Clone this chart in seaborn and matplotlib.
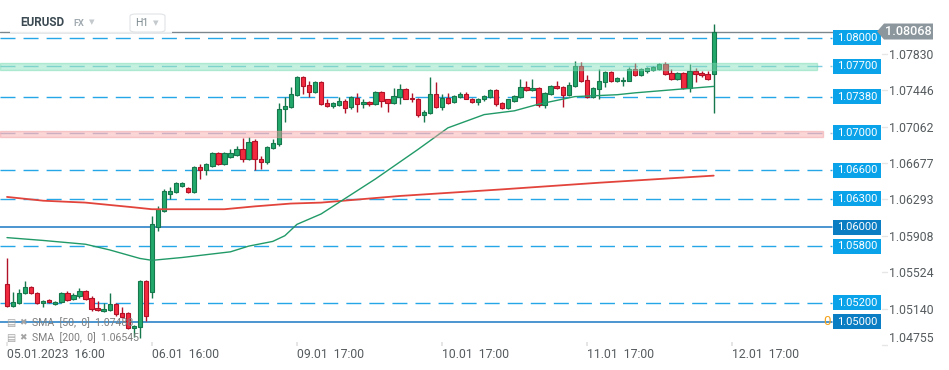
import numpy as np
import pandas as pd
import matplotlib
matplotlib.use("Agg")
import matplotlib.pyplot as plt
import matplotlib.transforms as mtransforms
from matplotlib.patches import Rectangle, Polygon, FancyBboxPatch
import seaborn as sns

# ---------------- data ----------------
opens = [1.0540, 1.0517, 1.0520, 1.0530, 1.0537, 1.0531, 1.0520, 1.0523, 1.0519, 1.0521,
         1.0531, 1.0524, 1.0527, 1.0533, 1.0525, 1.0515, 1.0511, 1.0512, 1.0519, 1.0509,
         1.0509, 1.0494, 1.0495, 1.0543, 1.0532, 1.0600, 1.0617, 1.0635, 1.0637, 1.0644,
         1.0641, 1.0637, 1.0664, 1.0660, 1.0665, 1.0678, 1.0667, 1.0674, 1.0676, 1.0683,
         1.0672, 1.0691, 1.0672, 1.0669, 1.0684, 1.0688, 1.0725, 1.0727, 1.0740, 1.0759,
         1.0750, 1.0743, 1.0753, 1.0731, 1.0728, 1.0729, 1.0733, 1.0727, 1.0737, 1.0730,
         1.0732, 1.0730, 1.0743, 1.0735, 1.0731, 1.0738, 1.0746, 1.0737, 1.0736, 1.0719,
         1.0721, 1.0741, 1.0727, 1.0737, 1.0732, 1.0738, 1.0741, 1.0736, 1.0732, 1.0735,
         1.0738, 1.0745, 1.0731, 1.0726, 1.0733, 1.0738, 1.0748, 1.0745, 1.0747, 1.0729,
         1.0741, 1.0749, 1.0748, 1.0740, 1.0749, 1.0770, 1.0756, 1.0738, 1.0746, 1.0753,
         1.0764, 1.0754, 1.0754, 1.0755, 1.0767, 1.0761, 1.0765, 1.0766, 1.0767, 1.0772,
         1.0763, 1.0757, 1.0763, 1.0747, 1.0765, 1.0763, 1.0762, 1.0762]
highs = [1.0567, 1.0532, 1.0535, 1.0543, 1.0538, 1.0532, 1.0523, 1.0524, 1.0522, 1.0532,
         1.0533, 1.0531, 1.0536, 1.0534, 1.0527, 1.0522, 1.0520, 1.0531, 1.0520, 1.0516,
         1.0510, 1.0497, 1.0544, 1.0544, 1.0612, 1.0622, 1.0640, 1.0643, 1.0648, 1.0648,
         1.0642, 1.0665, 1.0667, 1.0668, 1.0679, 1.0679, 1.0679, 1.0683, 1.0686, 1.0694,
         1.0695, 1.0693, 1.0675, 1.0686, 1.0693, 1.0731, 1.0738, 1.0748, 1.0760, 1.0760,
         1.0754, 1.0754, 1.0754, 1.0735, 1.0732, 1.0738, 1.0735, 1.0739, 1.0742, 1.0735,
         1.0733, 1.0744, 1.0744, 1.0736, 1.0747, 1.0751, 1.0747, 1.0742, 1.0737, 1.0724,
         1.0759, 1.0753, 1.0741, 1.0742, 1.0740, 1.0743, 1.0743, 1.0737, 1.0737, 1.0740,
         1.0746, 1.0746, 1.0732, 1.0736, 1.0740, 1.0757, 1.0755, 1.0757, 1.0748, 1.0743,
         1.0750, 1.0755, 1.0749, 1.0753, 1.0776, 1.0775, 1.0761, 1.0748, 1.0767, 1.0765,
         1.0765, 1.0759, 1.0759, 1.0769, 1.0774, 1.0768, 1.0769, 1.0770, 1.0773, 1.0775,
         1.0767, 1.0764, 1.0764, 1.0772, 1.0768, 1.0765, 1.0765, 1.0815]
lows = [1.0516, 1.0516, 1.0519, 1.0529, 1.0529, 1.0519, 1.0516, 1.0520, 1.0518, 1.0520,
        1.0522, 1.0523, 1.0525, 1.0523, 1.0511, 1.0511, 1.0510, 1.0511, 1.0506, 1.0504,
        1.0492, 1.0484, 1.0483, 1.0501, 1.0525, 1.0596, 1.0616, 1.0630, 1.0636, 1.0643,
        1.0636, 1.0636, 1.0651, 1.0655, 1.0664, 1.0666, 1.0666, 1.0673, 1.0675, 1.0669,
        1.0671, 1.0660, 1.0662, 1.0667, 1.0683, 1.0686, 1.0711, 1.0726, 1.0739, 1.0741,
        1.0738, 1.0742, 1.0729, 1.0727, 1.0726, 1.0728, 1.0721, 1.0725, 1.0722, 1.0726,
        1.0728, 1.0729, 1.0727, 1.0722, 1.0730, 1.0730, 1.0735, 1.0732, 1.0716, 1.0711,
        1.0720, 1.0726, 1.0724, 1.0730, 1.0731, 1.0737, 1.0735, 1.0731, 1.0729, 1.0733,
        1.0737, 1.0728, 1.0725, 1.0725, 1.0732, 1.0737, 1.0744, 1.0744, 1.0727, 1.0726,
        1.0740, 1.0746, 1.0727, 1.0739, 1.0748, 1.0753, 1.0737, 1.0737, 1.0736, 1.0748,
        1.0753, 1.0753, 1.0749, 1.0754, 1.0760, 1.0760, 1.0763, 1.0765, 1.0766, 1.0761,
        1.0756, 1.0756, 1.0746, 1.0743, 1.0753, 1.0759, 1.0756, 1.0721]
closes = [1.0517, 1.0521, 1.0531, 1.0537, 1.0530, 1.0520, 1.0522, 1.0521, 1.0521, 1.0531,
          1.0523, 1.0528, 1.0533, 1.0524, 1.0514, 1.0512, 1.0514, 1.0519, 1.0508, 1.0505,
          1.0494, 1.0496, 1.0543, 1.0506, 1.0603, 1.0619, 1.0638, 1.0638, 1.0647, 1.0647,
          1.0637, 1.0664, 1.0660, 1.0667, 1.0678, 1.0667, 1.0678, 1.0678, 1.0683, 1.0672,
          1.0690, 1.0672, 1.0669, 1.0685, 1.0689, 1.0725, 1.0728, 1.0741, 1.0759, 1.0749,
          1.0743, 1.0753, 1.0730, 1.0728, 1.0731, 1.0733, 1.0726, 1.0738, 1.0730, 1.0732,
          1.0730, 1.0743, 1.0733, 1.0731, 1.0739, 1.0746, 1.0736, 1.0735, 1.0719, 1.0722,
          1.0741, 1.0727, 1.0737, 1.0731, 1.0739, 1.0741, 1.0736, 1.0732, 1.0736, 1.0739,
          1.0745, 1.0730, 1.0726, 1.0735, 1.0739, 1.0748, 1.0745, 1.0747, 1.0729, 1.0742,
          1.0749, 1.0747, 1.0740, 1.0750, 1.0770, 1.0754, 1.0738, 1.0747, 1.0754, 1.0764,
          1.0754, 1.0758, 1.0756, 1.0767, 1.0761, 1.0767, 1.0768, 1.0769, 1.0772, 1.0762,
          1.0757, 1.0763, 1.0747, 1.0765, 1.0762, 1.0761, 1.0757, 1.08068]

sma50_idx = [0, 6, 13, 17, 22, 24, 29, 37, 40, 44, 46, 48, 52, 61, 68, 73, 79, 84, 88, 94, 101, 104, 117]
sma50_val = [1.0589, 1.0586, 1.0582, 1.0576, 1.0567, 1.0565, 1.0568, 1.0574, 1.0580, 1.0585, 1.0591,
             1.0603, 1.0614, 1.0651, 1.0682, 1.0705, 1.0719, 1.0723, 1.0730, 1.0738, 1.0740, 1.0742, 1.07488]
sma200_idx = [0, 6, 13, 21, 24, 36, 41, 47, 52, 65, 82, 98, 117]
sma200_val = [1.0632, 1.0628, 1.0626, 1.0621, 1.0619, 1.0619, 1.0622, 1.0625, 1.0626, 1.0633, 1.0640, 1.0647, 1.06545]

dashed_levels = [1.0800, 1.0770, 1.0738, 1.0700, 1.0660, 1.0630, 1.0580, 1.0520]
solid_levels = [1.0600, 1.0500]
green_zone = (1.07665, 1.07730)
red_zone = (1.06958, 1.07019)
last_price = 1.08068

ytick_vals = [1.07830, 1.07446, 1.07062, 1.06677, 1.06293, 1.05908, 1.05524, 1.05140, 1.04755]
xtick_idx = [0, 24, 48, 72, 96, 120]
xtick_labels = ["05.01.2023  16:00", "06.01  16:00", "09.01  17:00",
                "10.01  17:00", "11.01  17:00", "12.01  17:00"]

symbol = "EURUSD"
market = "FX"
interval = "H1"
legend_lines = ["SMA  [50,  0]  1.07488", "SMA  [200,  0]  1.06545"]

# ---------------- style ----------------
sns.set_theme(style="white")
plt.rcParams['font.family'] = ['Roboto', 'DejaVu Sans']

W, H = 949, 370
fig = plt.figure(figsize=(W / 100, H / 100), dpi=100)
ax_right_px = 832
ax_bottom_px = 345.5
ax = fig.add_axes([0, 1 - ax_bottom_px / H, ax_right_px / W, ax_bottom_px / H])

px_per_idx = 6.04
x0_px = 7
ax.set_xlim(-x0_px / px_per_idx, (ax_right_px - x0_px) / px_per_idx)
ax.set_ylim(1.04750, 1.08401)
xmin, xmax = ax.get_xlim()
ymin, ymax = ax.get_ylim()
price_per_px = (ymax - ymin) / ax_bottom_px

def fx(xp):
    return xp / W

def fy(yp):
    return 1 - yp / H

blend = mtransforms.blended_transform_factory(ax.transAxes, ax.transData)

# ---------------- levels ----------------
dash_col = '#25a6e6'
for lv in dashed_levels:
    col = dash_col
    if lv in (1.0770,):
        col = '#7fcbe0'
    if lv in (1.0700,):
        col = '#a9bad8'
    ax.plot([0, 1.0], [lv, lv], transform=blend, color=col, lw=1.0,
            ls=(0, (10.8, 5.8)), zorder=1.5, clip_on=False)
for lv in solid_levels:
    ax.plot([0, 1.0], [lv, lv], transform=blend, color='#1a78c2', lw=1.1, zorder=1.5, clip_on=False)

# last price line
ax.plot([0, 877 / ax_right_px], [last_price, last_price], transform=blend,
        color='#7b878d', lw=1.0, zorder=1.6, clip_on=False)

# ---------------- candles ----------------
idx = np.arange(len(opens))
o = np.array(opens); h = np.array(highs); l = np.array(lows); c = np.array(closes)
up = c >= o
g_fill, g_edge = '#23a86b', '#17774c'
r_fill, r_edge = '#f22a3f', '#b11227'
min_h = 0.00012
bot = np.minimum(o, c)
hei = np.maximum(np.abs(c - o), min_h)
ax.vlines(idx[up], l[up], h[up], color=g_edge, lw=1.0, zorder=2.5)
ax.vlines(idx[~up], l[~up], h[~up], color=r_edge, lw=1.0, zorder=2.5)
ax.bar(idx[up], hei[up], bottom=bot[up], width=0.72, color=g_fill, edgecolor=g_edge, lw=0.8, zorder=3)
ax.bar(idx[~up], hei[~up], bottom=bot[~up], width=0.72, color=r_fill, edgecolor=r_edge, lw=0.8, zorder=3)

# ---------------- SMA lines ----------------
sma50 = pd.DataFrame({"i": sma50_idx, "v": sma50_val})
sma200 = pd.DataFrame({"i": sma200_idx, "v": sma200_val})
sns.lineplot(data=sma200, x="i", y="v", ax=ax, color='#e2443c', lw=1.3, zorder=3.5)
sns.lineplot(data=sma50, x="i", y="v", ax=ax, color='#219a68', lw=1.0, zorder=3.5)

# ---------------- zones ----------------
gz_end = (817 - x0_px) / px_per_idx
rz_end = (823 - x0_px) / px_per_idx
ax.add_patch(Rectangle((xmin, green_zone[0]), gz_end - xmin, green_zone[1] - green_zone[0],
                       facecolor=(126/255, 222/255, 184/255), alpha=0.45,
                       edgecolor=(110/255, 214/255, 175/255), lw=1.0, zorder=4))
ax.add_patch(Rectangle((xmin, red_zone[0]), rz_end - xmin, red_zone[1] - red_zone[0],
                       facecolor=(248/255, 164/255, 168/255), alpha=0.45,
                       edgecolor=(240/255, 150/255, 155/255), lw=1.0, zorder=4))

# ---------------- right level boxes ----------------
bx0 = 833 / ax_right_px
bw = (881 - 833) / ax_right_px
bh = 15 * price_per_px
ax.text(823 / ax_right_px, 1.0500, "0", transform=blend, color='#f5a21b', fontsize=9.5,
        ha='left', va='center', zorder=5, clip_on=False)
for lv in dashed_levels + solid_levels:
    col = '#0b7dc2' if lv in solid_levels else '#0aa3ea'
    ax.add_patch(Rectangle((bx0, lv - bh / 2), bw, bh, transform=blend, facecolor=col,
                           edgecolor='none', zorder=6, clip_on=False))
    ax.text(857 / ax_right_px, lv, f"{lv:.5f}", transform=blend, color='white', fontsize=8,
            ha='center', va='center', zorder=7, clip_on=False)

# current price tag
tag_h = 8 * price_per_px
tag = Polygon([(877 / ax_right_px, last_price), (884 / ax_right_px, last_price + tag_h),
               (933 / ax_right_px, last_price + tag_h), (933 / ax_right_px, last_price - tag_h),
               (884 / ax_right_px, last_price - tag_h)], closed=True, transform=blend,
              facecolor='#8b979d', edgecolor='none', zorder=6, clip_on=False)
ax.add_patch(tag)
ax.text(908 / ax_right_px, last_price, f"{last_price:.5f}", transform=blend, color='white',
        fontsize=9.2, ha='center', va='center', zorder=7, clip_on=False, fontweight='medium')

# ---------------- axes ticks ----------------
for s in ax.spines.values():
    s.set_visible(False)
ax.grid(False)
ax.set_xlabel("")
ax.set_ylabel("")
ax.yaxis.tick_right()
ax.set_yticks(ytick_vals)
ax.set_yticklabels([f"{v:.5f}" for v in ytick_vals])
ax.tick_params(axis='y', length=0, pad=(889 - ax_right_px) * 0.72, labelsize=8.8,
               labelcolor='#555b5e')
ylabs = ax.get_yticklabels()
ylabs[-1].set_va('bottom')
for v in ytick_vals:
    ax.plot([882 / ax_right_px, 887 / ax_right_px], [v, v], transform=blend, color='#e6e6e6',
            lw=1, clip_on=False, zorder=1)

ax.set_xticks(xtick_idx)
ax.set_xticklabels(xtick_labels, ha='left')
ax.tick_params(axis='x', length=3, direction='in', color='#e2e2e2', pad=1.5,
               labelsize=8.8, labelcolor='#555b5e', bottom=True)

# ---------------- header ----------------
fig.patches.append(Rectangle((fx(10), fy(33)), fx(172) - fx(10), fy(0) - fy(33),
                             transform=fig.transFigure, facecolor='white', alpha=0.85,
                             edgecolor='none', zorder=10))
fig.text(fx(20), fy(23), symbol, fontsize=8.5, fontweight='bold', color='#3b4a52',
         ha='left', va='center', zorder=11)
fig.text(fx(73), fy(23.5), market, fontsize=6.6, fontweight='bold', color='#a0aab0',
         ha='left', va='center', zorder=11)
fig.text(fx(89), fy(22), "▼", fontsize=5.2, color='#c3c9cc', ha='left', va='center', zorder=11,
         family=['DejaVu Sans'])
fig.patches.append(FancyBboxPatch((fx(130), fy(32)), fx(165) - fx(130), fy(14) - fy(32),
                                  boxstyle="round,pad=0,rounding_size=0.006",
                                  transform=fig.transFigure, facecolor='white',
                                  edgecolor='#e0e4e6', lw=0.8, zorder=11))
fig.text(fx(135), fy(23.5), interval, fontsize=7.6, color='#7d8a90', ha='left', va='center', zorder=12)
fig.text(fx(153), fy(23), "▼", fontsize=5.2, color='#c3c9cc', ha='left', va='center', zorder=12,
         family=['DejaVu Sans'])

# ---------------- legend ----------------
for k, txt in enumerate(legend_lines):
    yp = 323 + 14.5 * k
    fig.text(fx(6), fy(yp), "▤", fontsize=7, color='#a3a3a3', ha='left', va='center',
             zorder=11, family=['DejaVu Sans'])
    fig.text(fx(19), fy(yp), "✖", fontsize=6.5, color='#a3a3a3', ha='left', va='center',
             zorder=11, family=['DejaVu Sans'])
    fig.text(fx(32), fy(yp), txt, fontsize=7.6, color='#7e7e7e', ha='left', va='center',
             zorder=11)

fig.savefig("out.png", dpi=100)
